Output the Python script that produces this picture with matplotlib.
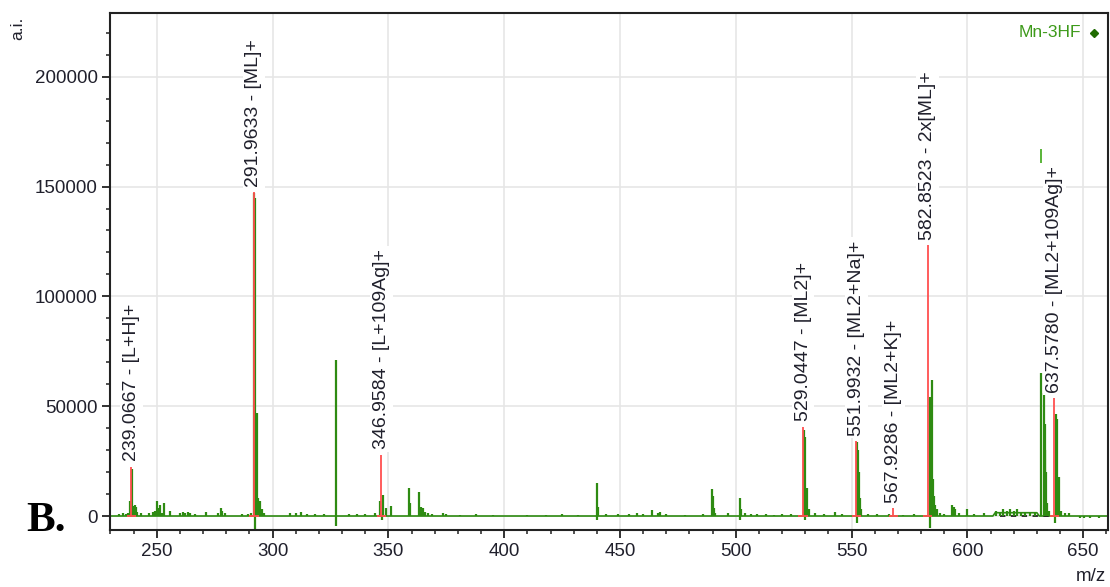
"""Mass spectrum of Mn-3HF (panel B) with the annotated ion peaks."""

import matplotlib
matplotlib.use("Agg")
import matplotlib.pyplot as plt
from matplotlib.ticker import MultipleLocator, FuncFormatter

plt.rcParams["font.family"] = ["Liberation Sans", "DejaVu Sans"]

GREEN = "#2e8b12"
RED = "#ff4f4f"
TEXT = "#20202c"

# annotated (red) peaks: m/z, intensity, ion assignment
ANNOT_MZ = [239.0667, 291.9633, 346.9584, 529.0447, 551.9932, 567.9286, 582.8523, 637.5780]
ANNOT_INT = [22400, 147400, 28000, 40600, 34100, 3600, 123300, 53700]
ANNOT_ION = ["[L+H]+", "[ML]+", "[L+109Ag]+", "[ML2]+", "[ML2+Na]+", "[ML2+K]+", "2x[ML]+", "[ML2+109Ag]+"]

# green profile, read as sticks (m/z, intensity); negatives dip below baseline
GREEN_MZ = [
    233.5, 235.2, 236.5, 237.6, 238.4, 239.1, 239.6, 240.4, 241.0, 241.6, 243.0, 246.8,
    248.2, 249.1, 250.2, 250.7, 251.3, 252.2, 253.0, 255.6, 260.0, 261.4, 262.3, 263.4,
    264.2, 266.5, 271.4, 276.5, 277.6, 278.2, 279.5, 287.0, 289.5, 290.8,
    292.1, 292.6, 292.3, 293.2, 293.6, 294.6, 295.5, 296.5,
    307.5, 310.0, 312.1, 315.0, 318.5, 322.0, 327.3, 327.4, 333.0, 336.5, 340.0, 344.2,
    346.4, 347.8, 347.3, 349.0, 351.1, 358.9, 359.3, 363.3, 364.2, 365.0, 365.8, 367.0,
    369.0, 373.6, 375.0, 381.0, 388.0, 395.0,
    410.0, 418.0, 425.0, 432.0, 439.9, 440.3, 440.1, 444.0, 449.0, 454.0, 457.5, 460.0,
    463.7, 466.5, 467.3, 470.0, 478.0, 486.0, 489.6, 490.0, 490.5, 491.2, 496.8, 501.8,
    502.2, 502.0, 504.0, 506.5, 509.0, 513.0, 516.5, 520.0, 524.0,
    529.3, 529.7, 530.0, 530.8, 531.5, 534.0, 538.0, 542.8, 546.0,
    552.3, 552.7, 553.1, 553.6, 554.2, 552.5, 557.0, 561.0, 566.0, 572.0, 577.0,
    584.0, 584.6, 583.7, 585.0, 585.5, 586.0, 586.8, 588.0, 590.0, 593.5, 594.3, 594.8,
    596.5, 599.7, 603.0, 607.0,
    612.5, 614.0, 615.5, 617.0, 618.5, 620.0, 621.5, 623.0, 625.0, 627.0, 629.0,
    631.7, 632.9, 633.3, 633.6, 633.9, 634.5, 635.2,
    638.4, 638.8, 639.7, 637.9, 640.5, 642.0, 644.0, 648.5, 650.5, 653.0, 657.0,
]
GREEN_INT = [
    1000, 1200, 800, 1500, 6800, 21500, 4500, 5200, 4200, 2000, 1200, 1500,
    2000, 2500, 6800, 3500, 5000, 1500, 6000, 2200, 1200, 1800, 1500, 2000,
    1400, 1000, 1800, 1500, 3500, 2200, 1200, 900, 1000, 1200,
    147000, 145000, -6000, 47000, 8000, 6800, 3000, 1500,
    1200, 1500, 2000, 1000, 800, 900, 71000, -4500, 800, 700, 900, 1500,
    6800, 9500, -2000, 3500, 4700, 12900, 6000, 11100, 4100, 3500, 2000, 1200,
    800, 1500, 900, 600, 700, 500,
    600, 500, 700, 600, 15200, 4000, -2000, 800, 700, 900, 1500, 700,
    2700, 1200, 1800, 900, 600, 700, 12300, 9000, 3500, 1500, 1500, 8000,
    3000, -2000, 1200, 900, 700, 800, 600, 700, 900,
    39000, 36000, -2000, 12600, 3000, 1200, 900, 2000, 800,
    33800, 30000, 20000, 8000, 3000, -3000, 900, 700, 800, 600, 900,
    54000, 62000, -5500, 17000, 9000, 5000, 3000, 1500, 1000, 5000, 4000, 3000,
    1500, 3000, 900, 1200,
    2500, 2000, 3000, 2500, 3200, 2500, 3000, 2000, 1800, 1500, 1800,
    65000, 56000, 42000, 30000, 20000, 6000, 2500,
    46400, 44000, 17900, -3200, 2500, 1500, 1200, -1000, -800, -900, -700,
]

# short stray green tick drawn above the 637 label
STRAY_MZ = [631.9]
STRAY_LO = [160500]
STRAY_HI = [167000]

# raised baseline under the 612-630 hump, dashed zero line beneath it
HUMP_MZ = [229.8, 611.0, 612.0, 630.0, 631.0, 660.7]
HUMP_INT = [0, 0, 1500, 1500, 0, 0]
DASH_MZ = [614.0, 637.0]

X_TICKS = [250, 300, 350, 400, 450, 500, 550, 600, 650]
Y_TICKS = [0, 50000, 100000, 150000, 200000]


def main() -> None:
    fig = plt.figure(figsize=(11.10, 5.87), dpi=100)
    ax = fig.add_axes([0.0991, 0.0971, 0.8991, 0.8802])

    ax.plot(HUMP_MZ, HUMP_INT, color=GREEN, lw=1.2, zorder=2)
    ax.plot(DASH_MZ, [0, 0], color="#222222", lw=1.3, ls=(0, (3, 3)), zorder=2)
    ax.vlines(GREEN_MZ, 0, GREEN_INT, color=GREEN, lw=1.6, zorder=2)
    ax.vlines(STRAY_MZ, STRAY_LO, STRAY_HI, color="#4caf2a", lw=1.3, zorder=2)
    ax.vlines(ANNOT_MZ, 0, ANNOT_INT, color=RED, lw=1.3, zorder=3)
    ax.hlines([0] * len(ANNOT_MZ), [m - 2 for m in ANNOT_MZ], [m + 2 for m in ANNOT_MZ],
              color=RED, lw=1.3, zorder=3)

    for mz, inten, ion in zip(ANNOT_MZ, ANNOT_INT, ANNOT_ION):
        ax.annotate(f"{mz:.4f} - {ion}", xy=(mz, inten), xytext=(0, 4),
                    textcoords="offset points", rotation=90, ha="center", va="bottom",
                    fontsize=14, color=TEXT, zorder=6, annotation_clip=False,
                    bbox=dict(boxstyle="square,pad=0.15", fc="white", ec="none"))

    ax.set_xlim(229.8, 660.7)
    ax.set_ylim(-6370, 228860)
    ax.set_xticks(X_TICKS)
    ax.set_yticks(Y_TICKS)
    ax.xaxis.set_minor_locator(MultipleLocator(10))
    ax.yaxis.set_minor_locator(MultipleLocator(10000))
    ax.yaxis.set_major_formatter(FuncFormatter(lambda v, _: f"{int(v)}"))
    ax.tick_params(which="major", length=6, width=1.3, labelsize=13.5, colors="#222222",
                   labelcolor=TEXT, pad=3)
    ax.tick_params(which="minor", length=3, width=1.1, colors="#222222")
    ax.grid(True, which="major", color="#e6e6e6", lw=1.2, zorder=0)
    ax.set_axisbelow(True)
    for sp in ax.spines.values():
        sp.set_color("#222222")
        sp.set_linewidth(1.5)

    # legend entry in the top-right corner
    ax.text(0.973, 0.962, "Mn-3HF", transform=ax.transAxes, ha="right", va="center",
            fontsize=12.5, color="#3d9a1a")
    ax.plot([0.986], [0.962], marker="D", ms=4.5, color="#1f6b00", transform=ax.transAxes,
            clip_on=False)

    fig.text(0.0162, 0.952, "a.i.", rotation=90, ha="center", va="center",
             fontsize=12.5, color=TEXT)
    fig.text(0.983, 0.0187, "m/z", ha="center", va="center", fontsize=13.5, color=TEXT)
    fig.text(0.0234, 0.0954, "B.", ha="left", va="baseline", fontsize=31,
             fontweight="bold", family="Liberation Serif", color="black")

    fig.savefig("out.png", dpi=100)
    plt.close(fig)


if __name__ == "__main__":
    main()
